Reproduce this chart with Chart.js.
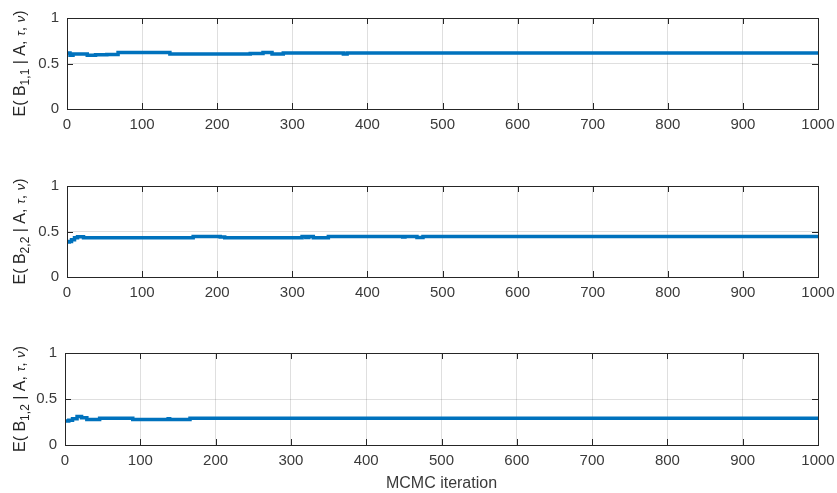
<!DOCTYPE html>
<html>
<head>
<meta charset="utf-8">
<script src="https://cdn.jsdelivr.net/npm/chart.js@4.4.0/dist/chart.umd.min.js"></script>
<style>
  html, body { margin: 0; padding: 0; background: #fff; }
  #wrap { position: relative; width: 837px; height: 493px; }
  #wrap canvas { position: absolute; left: 0; top: 0; }
</style>
</head>
<body>
<div id="wrap">
  <canvas id="c1" width="837" height="493"></canvas>
  <canvas id="c2" width="837" height="493"></canvas>
  <canvas id="c3" width="837" height="493"></canvas>
</div>
<script>
// running posterior means (value holds until next change point)
const iter11 = [0, 4, 8, 27, 38, 53, 68, 137, 244, 261, 273, 288, 368, 373, 377, 1000];
const mean11 = [0.615, 0.59, 0.605, 0.59, 0.595, 0.60, 0.62, 0.605, 0.61, 0.62, 0.605, 0.615, 0.605, 0.615, 0.615, 0.615];

const iter22 = [0, 3, 6, 10, 14, 22, 168, 204, 210, 313, 318, 322, 328, 348, 447, 450, 466, 474, 1000];
const mean22 = [0.385, 0.39, 0.41, 0.43, 0.443, 0.432, 0.445, 0.44, 0.432, 0.445, 0.435, 0.445, 0.432, 0.445, 0.44, 0.445, 0.435, 0.445, 0.445];

const iter12 = [0, 5, 10, 16, 22, 29, 46, 90, 137, 139, 166, 1000];
const mean12 = [0.262, 0.27, 0.285, 0.31, 0.295, 0.276, 0.29, 0.278, 0.285, 0.278, 0.29, 0.29];

const xTicks = [0, 100, 200, 300, 400, 500, 600, 700, 800, 900, 1000];
const yTicks = [0, 0.5, 1];

const fam = '"Liberation Sans", Arial, Helvetica, sans-serif';
const ink = '#262626';
const gridColor = 'rgba(38,38,38,0.15)';

const boxPlugin = {
  id: 'box',
  afterDraw(chart, args, opts) {
    const ctx = chart.ctx;
    const a = chart.chartArea;
    const sx = chart.scales.x, sy = chart.scales.y;
    ctx.save();
    ctx.strokeStyle = ink;
    ctx.lineWidth = 1;
    ctx.strokeRect(Math.round(a.left) + 0.5, Math.round(a.top) + 0.5,
                   Math.round(a.right - a.left), Math.round(a.bottom - a.top));
    ctx.beginPath();
    for (const v of xTicks) {
      const px = Math.round(sx.getPixelForValue(v)) + 0.5;
      ctx.moveTo(px, a.top); ctx.lineTo(px, a.top + 6);
      ctx.moveTo(px, a.bottom); ctx.lineTo(px, a.bottom - 6);
    }
    for (const v of yTicks) {
      const py = Math.round(sy.getPixelForValue(v)) + 0.5;
      ctx.moveTo(a.left, py); ctx.lineTo(a.left + 6, py);
      ctx.moveTo(a.right, py); ctx.lineTo(a.right - 6, py);
    }
    ctx.stroke();

    // y label: E( B_sub | A, tau, nu)
    const parts = [
      { t: 'E( B', f: '16px ' + fam, dy: 0 },
      { t: opts.sub, f: '12px ' + fam, dy: 4 },
      { t: ' | A, ', f: '16px ' + fam, dy: 0 },
      { t: 'τ', f: 'italic 13px ' + fam, dy: 0 },
      { t: ', ', f: '16px ' + fam, dy: 0 },
      { t: 'ν', f: 'italic 13px ' + fam, dy: 0 },
      { t: ')', f: '16px ' + fam, dy: 0 }
    ];
    let total = 0;
    for (const p of parts) { ctx.font = p.f; p.w = ctx.measureText(p.t).width; total += p.w; }
    ctx.translate(25, (a.top + a.bottom) / 2);
    ctx.rotate(-Math.PI / 2);
    ctx.fillStyle = ink;
    ctx.textBaseline = 'alphabetic';
    let x = -total / 2;
    for (const p of parts) {
      ctx.font = p.f;
      ctx.fillText(p.t, x, p.dy);
      x += p.w;
    }
    ctx.restore();
  }
};

function traceChart(id, iters, means, sub, left, top, bottom, xTitle) {
  const pts = iters.map((v, i) => ({ x: v, y: means[i] }));
  const xh = xTitle ? 48 : 25;
  new Chart(document.getElementById(id), {
    type: 'line',
    data: {
      datasets: [{
        data: pts,
        borderColor: '#0072bd',
        borderWidth: 3.5,
        pointRadius: 0,
        stepped: true,
        fill: false
      }]
    },
    options: {
      responsive: false,
      animation: false,
      events: [],
      layout: { padding: { left: 0, right: 19, top: top, bottom: 493 - bottom - xh } },
      plugins: { legend: { display: false }, tooltip: { enabled: false }, box: { sub: sub } },
      scales: {
        x: {
          type: 'linear', min: 0, max: 1000,
          afterBuildTicks: s => { s.ticks = xTicks.map(v => ({ value: v })); },
          grid: { color: gridColor, drawTicks: false },
          border: { display: false },
          ticks: { color: '#3a3a3a', font: { family: fam, size: 15 }, padding: 7, maxRotation: 0, autoSkip: false,
                   callback: v => String(v) },
          title: { display: !!xTitle, text: xTitle, color: '#3a3a3a', font: { family: fam, size: 16 }, padding: 0 },
          afterFit: s => { s.height = xh; s.paddingLeft = 0; s.paddingRight = 0; }
        },
        y: {
          min: 0, max: 1,
          afterBuildTicks: s => { s.ticks = yTicks.map(v => ({ value: v })); },
          grid: { color: gridColor, drawTicks: false },
          border: { display: false },
          ticks: { color: '#3a3a3a', font: { family: fam, size: 15 }, padding: 8, callback: v => String(v) },
          afterFit: s => { s.width = left; s.paddingTop = 0; s.paddingBottom = 0; }
        }
      }
    },
    plugins: [boxPlugin]
  });
}

traceChart('c1', iter11, mean11, '1,1', 67, 18, 109, '');
traceChart('c2', iter22, mean22, '2,2', 67, 186, 277, '');
traceChart('c3', iter12, mean12, '1,2', 65, 353, 445, 'MCMC iteration');
</script>
</body>
</html>
